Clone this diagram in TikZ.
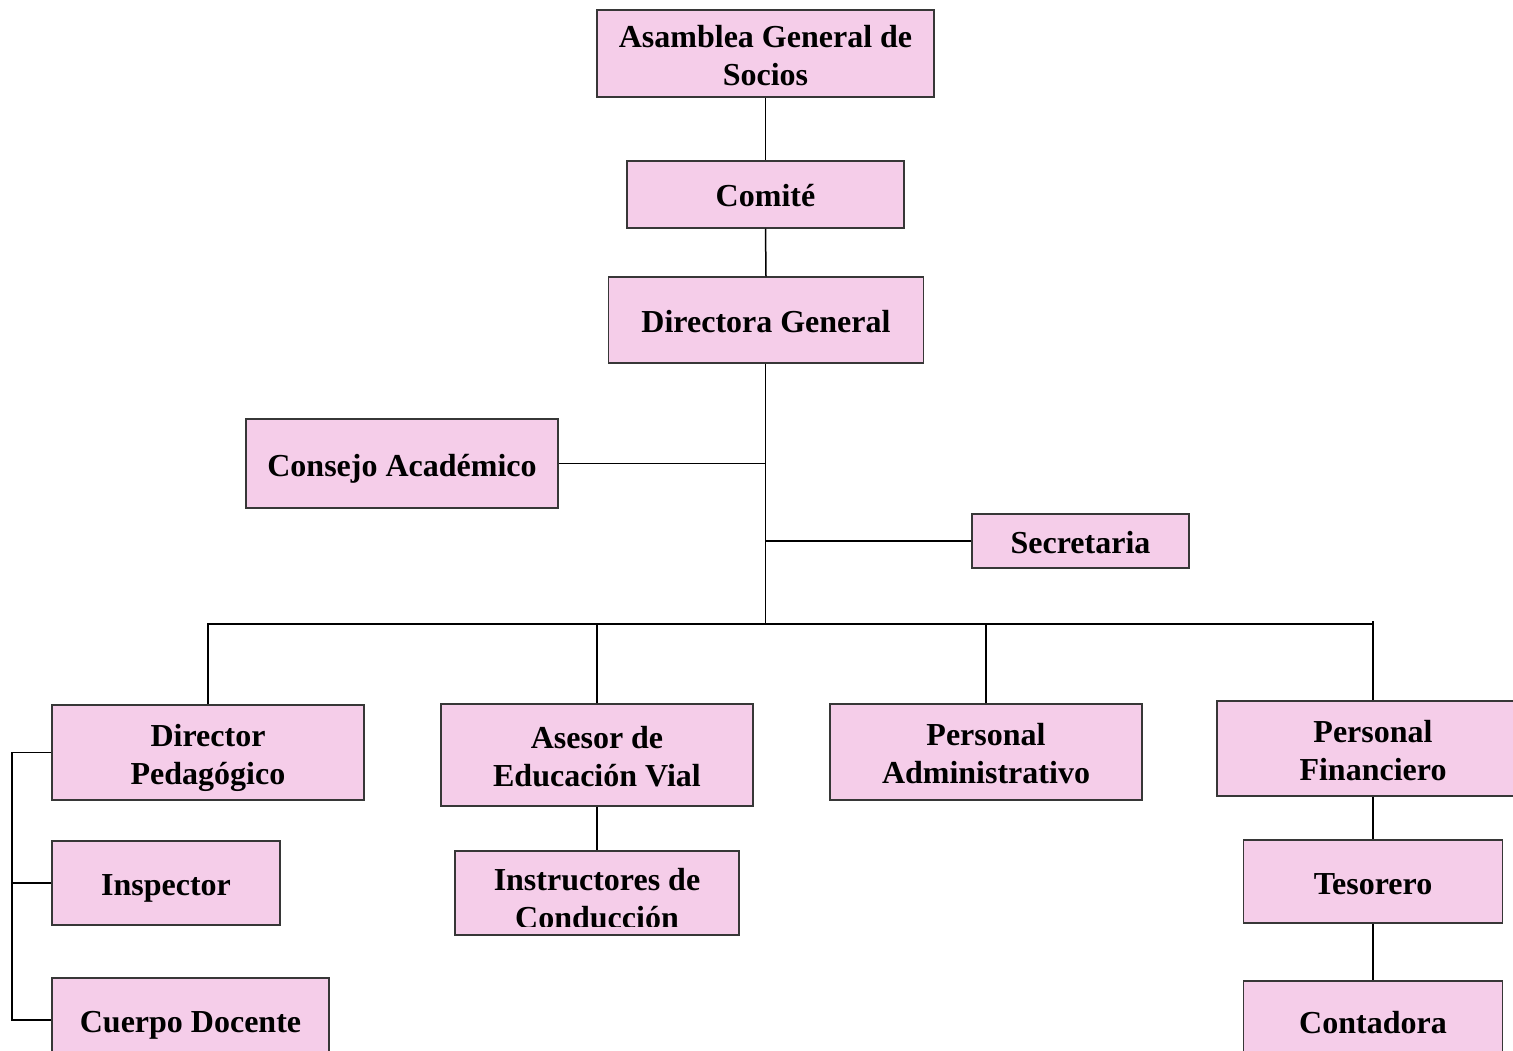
\documentclass[tikz,border=0pt]{standalone}
\usepackage{fontspec}
\setmainfont{Liberation Serif}
\definecolor{boxfill}{RGB}{245,205,233}
\definecolor{boxline}{RGB}{55,55,55}
\newcommand{\boxfont}{\bfseries\fontsize{32}{38}\selectfont}
% centred label block, lowered a little inside its box
\newcommand{\lbl}[2][5pt]{\raisebox{-#1}[\height][\depth]{\begin{tabular}{@{}c@{}}#2\end{tabular}}}
\begin{document}
\begin{tikzpicture}[x=1pt,y=-1pt,
  box/.style={draw=boxline, fill=boxfill, line width=1.3pt, inner sep=0pt,
              font=\boxfont},
  link/.style={draw=black, line width=1.5pt}]
\clip (0,0) rectangle (1513,1050);
\fill[white] (0,0) rectangle (1513,1050);

% upper chain of command
\node[box, minimum width=337pt, minimum height=87pt] (asamblea) at (765.5,53.5) {\lbl{Asamblea General de\\Socios}};
\node[box, minimum width=277pt, minimum height=67pt] (comite) at (765.5,194.5) {\lbl[4pt]{Comité}};
\node[box, minimum width=315pt, minimum height=86pt] (directora) at (766,320) {\lbl{Directora General}};

% staff units beside the main line
\node[box, minimum width=312pt, minimum height=89pt] (consejo) at (402,463.5) {\lbl{Consejo Académico}};
\node[box, minimum width=217pt, minimum height=54pt] (secretaria) at (1080.5,541) {\lbl{Secretaria}};

% departments
\node[box, minimum width=312pt, minimum height=95pt] (dirped) at (208,752.5) {\lbl{Director\\Pedagógico}};
\node[box, minimum width=312pt, minimum height=102pt] (asesor) at (597,755) {\lbl{Asesor de\\Educación Vial}};
\node[box, minimum width=312pt, minimum height=96pt] (persadm) at (986,752) {\lbl{Personal\\Administrativo}};
\node[box, minimum width=312pt, minimum height=95pt] (persfin) at (1373,748.5) {\lbl{Personal\\Financiero}};

% lower units
\node[box, minimum width=228pt, minimum height=84pt] (inspector) at (166,883) {\lbl{Inspector}};
\node[box, minimum width=277pt, minimum height=84pt] (cuerpo) at (190.5,1020) {\lbl{Cuerpo Docente}};
\node[box, minimum width=284pt, minimum height=84pt,
  path picture={
    \clip ([yshift=9pt]path picture bounding box.south west) rectangle (path picture bounding box.north east);
    \node[font=\boxfont, inner sep=0pt] at (path picture bounding box.center) {\lbl[9pt]{Instructores de\\Conducción}};
  }] (instr) at (597,893) {};
\node[box, minimum width=259pt, minimum height=83pt] (tesorero) at (1373,881.5) {\lbl{Tesorero}};
\node[box, minimum width=259pt, minimum height=80pt] (contadora) at (1373,1021) {\lbl{Contadora}};

% connectors
\coordinate (bus) at (765.5,624);
\coordinate (busR) at (1373,621);
\coordinate (brk) at (12,752);

\draw[link] (asamblea.south) -- (comite.north);
\draw[link] (comite.south) -- (directora.north);
\draw[link] (directora.south -| bus) -- (bus);
\draw[link] (consejo.east) -- (consejo.east -| bus);
\draw[link] (secretaria.west) -- (secretaria.west -| bus);
\draw[link] (dirped.north) -- (dirped.north |- bus) -- (busR |- bus);
\draw[link] (asesor.north) -- (asesor.north |- bus);
\draw[link] (persadm.north) -- (persadm.north |- bus);
\draw[link] (persfin.north) -- (busR);
\draw[link] (asesor.south) -- (instr.north);
\draw[link] (persfin.south) -- (tesorero.north);
\draw[link] (tesorero.south) -- (contadora.north);
\draw[link] (dirped.west) -- (dirped.west -| brk) |- (cuerpo.west);
\draw[link] (inspector.west) -- (inspector.west -| brk);
\end{tikzpicture}
\end{document}
